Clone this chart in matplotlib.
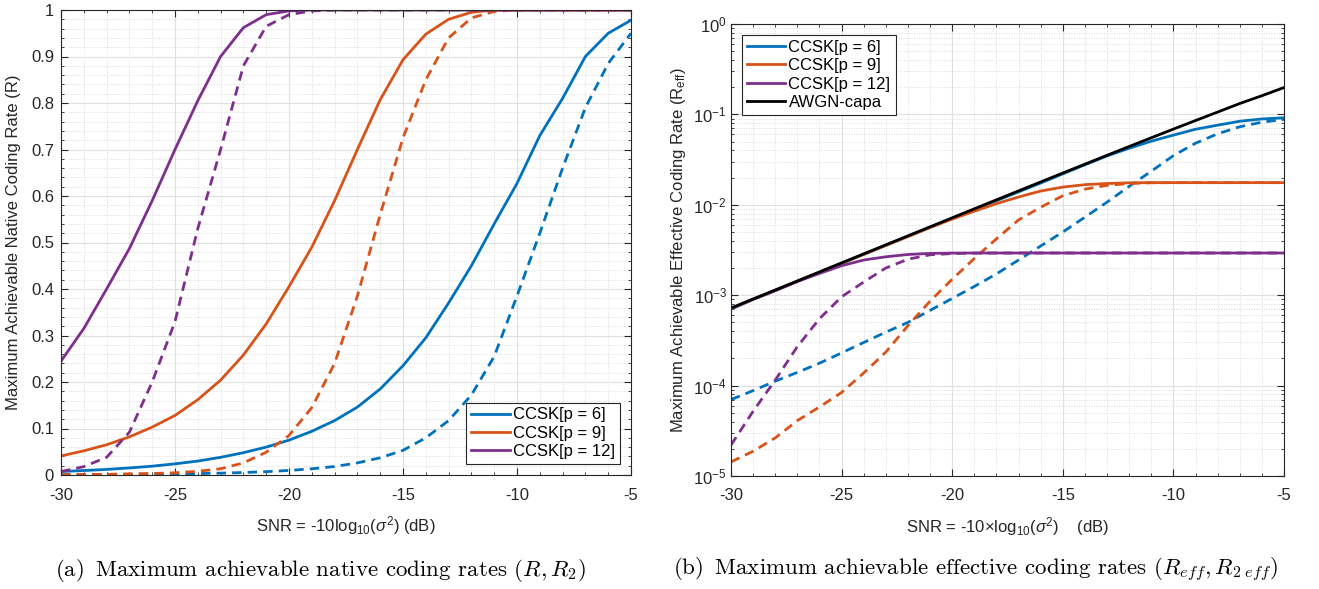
import numpy as np
import matplotlib
matplotlib.use("Agg")
import matplotlib.pyplot as plt
from matplotlib.ticker import MultipleLocator, LogLocator, NullFormatter

plt.rcParams['font.family'] = ['Liberation Sans', 'DejaVu Sans']
plt.rcParams['axes.unicode_minus'] = False
plt.rcParams['mathtext.fontset'] = 'custom'
plt.rcParams['mathtext.rm'] = 'Liberation Sans'
plt.rcParams['mathtext.it'] = 'Liberation Sans:italic'

# ---------------- data ----------------
snr_db = [-30, -29, -28, -27, -26, -25, -24, -23, -22, -21, -20, -19, -18,
          -17, -16, -15, -14, -13, -12, -11, -10, -9, -8, -7, -6, -5]

labels = ['CCSK[p = 6]', 'CCSK[p = 9]', 'CCSK[p = 12]']
capa_label = 'AWGN-capa'

# (a) native coding rates R (solid) and R2 (dashed)
R_p6 = [0.0075, 0.0096, 0.012, 0.0152, 0.019, 0.024, 0.030, 0.038, 0.048, 0.060,
        0.075, 0.094, 0.117, 0.146, 0.185, 0.235, 0.295, 0.37, 0.45, 0.54,
        0.627, 0.73, 0.81, 0.90, 0.95, 0.978]
R2_p6 = [0.0008, 0.001, 0.0012, 0.0015, 0.0019, 0.0024, 0.003, 0.0040, 0.0053, 0.0072,
         0.0098, 0.0133, 0.0183, 0.026, 0.037, 0.053, 0.080, 0.117, 0.172, 0.255,
         0.385, 0.52, 0.66, 0.79, 0.885, 0.95]
R_p9 = [0.041, 0.052, 0.065, 0.082, 0.103, 0.128, 0.162, 0.204, 0.258, 0.325,
        0.405, 0.49, 0.59, 0.70, 0.807, 0.893, 0.948, 0.98, 0.995, 1.0,
        1.0, 1.0, 1.0, 1.0, 1.0, 1.0]
R2_p9 = [0.0008, 0.0011, 0.0015, 0.0024, 0.0033, 0.0048, 0.0079, 0.0134, 0.026, 0.049,
         0.085, 0.145, 0.24, 0.385, 0.56, 0.725, 0.85, 0.94, 0.983, 0.997,
         1.0, 1.0, 1.0, 1.0, 1.0, 1.0]
R_p12 = [0.245, 0.315, 0.40, 0.487, 0.59, 0.70, 0.805, 0.90, 0.962, 0.99,
         0.998, 1.0, 1.0, 1.0, 1.0, 1.0, 1.0, 1.0, 1.0, 1.0,
         1.0, 1.0, 1.0, 1.0, 1.0, 1.0]
R2_p12 = [0.0075, 0.018, 0.038, 0.092, 0.20, 0.33, 0.53, 0.70, 0.88, 0.965,
          0.99, 0.998, 1.0, 1.0, 1.0, 1.0, 1.0, 1.0, 1.0, 1.0,
          1.0, 1.0, 1.0, 1.0, 1.0, 1.0]

# (b) effective coding rates Reff (solid) and R2eff (dashed), plus AWGN capacity
Reff_p6 = [7.0e-4, 9.0e-4, 1.13e-3, 1.42e-3, 1.78e-3, 2.25e-3, 2.83e-3, 3.56e-3, 4.48e-3, 5.63e-3,
           7.07e-3, 8.9e-3, 1.11e-2, 1.39e-2, 1.74e-2, 2.2e-2, 2.77e-2, 3.47e-2, 4.22e-2, 5.06e-2,
           5.9e-2, 6.85e-2, 7.6e-2, 8.4e-2, 8.9e-2, 9.17e-2]
R2eff_p6 = [7.0e-5, 8.8e-5, 1.12e-4, 1.4e-4, 1.77e-4, 2.3e-4, 3.0e-4, 3.9e-4, 5.0e-4, 6.8e-4,
            9.2e-4, 1.25e-3, 1.72e-3, 2.45e-3, 3.5e-3, 5.0e-3, 7.3e-3, 1.07e-2, 1.6e-2, 2.35e-2,
            3.5e-2, 4.8e-2, 6.1e-2, 7.3e-2, 8.2e-2, 8.8e-2]
Reff_p9 = [7.1e-4, 9.0e-4, 1.13e-3, 1.42e-3, 1.79e-3, 2.25e-3, 2.83e-3, 3.55e-3, 4.45e-3, 5.6e-3,
           6.95e-3, 8.5e-3, 1.03e-2, 1.22e-2, 1.42e-2, 1.57e-2, 1.67e-2, 1.72e-2, 1.75e-2, 1.758e-2,
           1.758e-2, 1.758e-2, 1.758e-2, 1.758e-2, 1.758e-2, 1.758e-2]
R2eff_p9 = [1.43e-5, 1.88e-5, 2.64e-5, 4.1e-5, 5.8e-5, 8.4e-5, 1.38e-4, 2.35e-4, 4.6e-4, 8.6e-4,
            1.5e-3, 2.55e-3, 4.2e-3, 6.8e-3, 9.4e-3, 1.26e-2, 1.49e-2, 1.64e-2, 1.72e-2, 1.752e-2,
            1.758e-2, 1.758e-2, 1.758e-2, 1.758e-2, 1.758e-2, 1.758e-2]
Reff_p12 = [7.1e-4, 9.0e-4, 1.12e-3, 1.42e-3, 1.74e-3, 2.12e-3, 2.45e-3, 2.66e-3, 2.82e-3, 2.9e-3,
            2.925e-3, 2.93e-3, 2.93e-3, 2.93e-3, 2.93e-3, 2.93e-3, 2.93e-3, 2.93e-3, 2.93e-3, 2.93e-3,
            2.93e-3, 2.93e-3, 2.93e-3, 2.93e-3, 2.93e-3, 2.93e-3]
R2eff_p12 = [2.2e-5, 5.2e-5, 1.15e-4, 2.7e-4, 5.5e-4, 9.6e-4, 1.4e-3, 2.0e-3, 2.5e-3, 2.8e-3,
             2.89e-3, 2.92e-3, 2.93e-3, 2.93e-3, 2.93e-3, 2.93e-3, 2.93e-3, 2.93e-3, 2.93e-3, 2.93e-3,
             2.93e-3, 2.93e-3, 2.93e-3, 2.93e-3, 2.93e-3, 2.93e-3]
awgn_capa = [7.21e-4, 9.08e-4, 1.142e-3, 1.438e-3, 1.81e-3, 2.278e-3, 2.866e-3, 3.606e-3, 4.537e-3, 5.707e-3,
             7.178e-3, 9.025e-3, 1.1343e-2, 1.4251e-2, 1.7895e-2, 2.2457e-2, 2.816e-2, 3.5276e-2, 4.4138e-2, 5.5138e-2,
             6.8752e-2, 8.553e-2, 0.106152, 0.131954, 0.160928, 0.198087]

left_yticks = [0, 0.1, 0.2, 0.3, 0.4, 0.5, 0.6, 0.7, 0.8, 0.9, 1]
left_yticklabels = ['0', '0.1', '0.2', '0.3', '0.4', '0.5', '0.6', '0.7', '0.8', '0.9', '1']
xticks = [-30, -25, -20, -15, -10, -5]

# ---------------- style ----------------
colors = ['#0072BD', '#D95319', '#7E2F8E']
axcol = '#262626'
lw = 2.0
dash = (3.4, 2.2)
fs = 12
W, H = 1319, 589
fig = plt.figure(figsize=(W / 100, H / 100), dpi=100)


def style_axes(ax):
    for s in ax.spines.values():
        s.set_color(axcol)
        s.set_linewidth(0.8)
    ax.tick_params(which='both', direction='in', top=True, right=True,
                   colors=axcol, labelsize=fs, labelcolor='#262626')
    ax.tick_params(which='major', length=5)
    ax.tick_params(which='minor', length=2.5)
    ax.tick_params(axis='x', which='major', pad=9)
    ax.tick_params(axis='y', which='major', pad=5)
    ax.grid(True, which='major', color='#e0e0e0', linewidth=0.8, linestyle='-')
    ax.grid(True, which='minor', color='#d0d0d0', linewidth=0.6, linestyle=(0, (1, 2)))
    ax.set_axisbelow(True)


def legend(ax, loc):
    leg = ax.legend(loc=loc, fontsize=fs, frameon=True, fancybox=False,
                    edgecolor=axcol, framealpha=1, handlelength=2.3, handletextpad=0.2,
                    borderpad=0.3, labelspacing=0.2, borderaxespad=0.65)
    leg.get_frame().set_linewidth(0.8)
    return leg


# ---------------- (a) ----------------
ax1 = fig.add_axes([61 / W, 1 - 475 / H, (631 - 61) / W, (475 - 10) / H])
style_axes(ax1)
for c, lab, r, r2 in zip(colors, labels, [R_p6, R_p9, R_p12], [R2_p6, R2_p9, R2_p12]):
    ax1.plot(snr_db, r, color=c, lw=lw, label=lab)
    ax1.plot(snr_db, r2, color=c, lw=lw, linestyle=(0, dash))
ax1.set_xlim(-30, -5)
ax1.set_ylim(0, 1)
ax1.set_xticks(xticks)
ax1.set_xticklabels([str(t) for t in xticks])
ax1.set_yticks(left_yticks)
ax1.set_yticklabels(left_yticklabels)
ax1.xaxis.set_minor_locator(MultipleLocator(1))
ax1.yaxis.set_minor_locator(MultipleLocator(0.02))
ax1.set_xlabel(r'SNR = -10log$_{10}$($\sigma^2$) (dB)', fontsize=fs, color='#262626', labelpad=8)
ax1.set_ylabel('Maximum Achievable Native Coding Rate (R)', fontsize=fs, color='#262626', labelpad=7)
legend(ax1, 'lower right')

# ---------------- (b) ----------------
ax2 = fig.add_axes([731 / W, 1 - 476 / H, (1284 - 731) / W, (476 - 24) / H])
style_axes(ax2)
ax2.set_yscale('log')
for c, lab, r, r2 in zip(colors, labels, [Reff_p6, Reff_p9, Reff_p12], [R2eff_p6, R2eff_p9, R2eff_p12]):
    ax2.plot(snr_db, r, color=c, lw=lw, label=lab)
    ax2.plot(snr_db, r2, color=c, lw=lw, linestyle=(0, dash))
ax2.plot(snr_db, awgn_capa, color='black', lw=lw, label=capa_label)
ax2.set_xlim(-30, -5)
ax2.set_ylim(1e-5, 1)
ax2.set_xticks(xticks)
ax2.set_xticklabels([str(t) for t in xticks])
ax2.xaxis.set_minor_locator(MultipleLocator(1))
ax2.yaxis.set_major_locator(LogLocator(base=10, numticks=10))
ax2.yaxis.set_minor_locator(LogLocator(base=10, subs=np.arange(2, 10), numticks=20))
ax2.yaxis.set_minor_formatter(NullFormatter())
ax2.tick_params(axis='y', which='major', pad=3)
ax2.set_xlabel(r'SNR = -10$\times$log$_{10}$($\sigma^2$)    (dB)', fontsize=fs, color='#262626', labelpad=8)
ax2.set_ylabel(r'Maximum Achievable Effective Coding Rate (R$_{\mathrm{eff}}$)', fontsize=fs,
               color='#262626', labelpad=4)
legend(ax2, 'upper left')

# ---------------- captions ----------------
plt.rcParams['mathtext.fontset'] = 'cm'
cap_kw = dict(fontsize=16.5, family='cmr10', ha='center', va='center')
fig.text(321 / W, 1 - 570 / H, r'(a)$\,$ Maximum achievable native coding rates ($R, R_2$)', **cap_kw)
fig.text(976 / W, 1 - 570 / H, r'(b)$\,$ Maximum achievable effective coding rates ($R_{eff}, R_{2\ eff}$)', **cap_kw)

fig.savefig('out.png', dpi=100)
